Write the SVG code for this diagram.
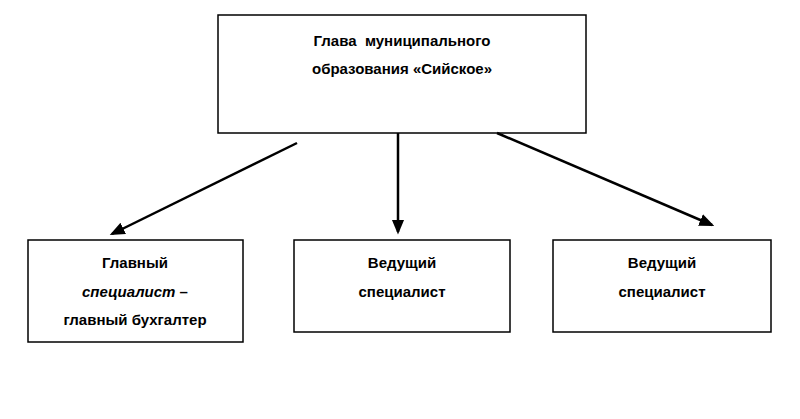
<svg xmlns="http://www.w3.org/2000/svg" width="800" height="419" viewBox="0 0 800 419">
<style>
.b{fill:#fff;stroke:#000;stroke-width:1.5}
text{font-family:"Liberation Sans",Arial,sans-serif;font-size:15px;font-weight:bold;text-anchor:middle;fill:#000}
.c line{stroke:#000;stroke-width:2.5;marker-end:url(#a)}
</style>
<defs><marker id="a" markerWidth="6" markerHeight="6" refX="5" refY="3" orient="auto"><path d="M0,0.5L6,3L0,5.5z" fill="#000"/></marker></defs>
<rect width="800" height="419" fill="#fff"/>
<g id="head"><rect class="b" x="218" y="15" width="368" height="118"/>
<text x="402" y="46" style="white-space:pre">Глава  муниципального</text><text x="402" y="74">образования «Сийское»</text></g>
<g id="n1"><rect class="b" x="28" y="240" width="215" height="102"/>
<text x="135" y="268">Главный</text><text x="135" y="297"><tspan font-style="italic">специалист</tspan> –</text><text x="135" y="325">главный бухгалтер</text></g>
<g id="n2"><rect class="b" x="294" y="240" width="216" height="92"/>
<text x="402" y="268">Ведущий</text><text x="402" y="297">специалист</text></g>
<g id="n3"><rect class="b" x="553" y="240" width="218" height="92"/>
<text x="662" y="268">Ведущий</text><text x="662" y="297">специалист</text></g>
<g class="c"><line x1="297" y1="143" x2="112" y2="234"/><line x1="398" y1="133" x2="398" y2="232"/><line x1="497" y1="133" x2="712" y2="225"/></g>
</svg>
